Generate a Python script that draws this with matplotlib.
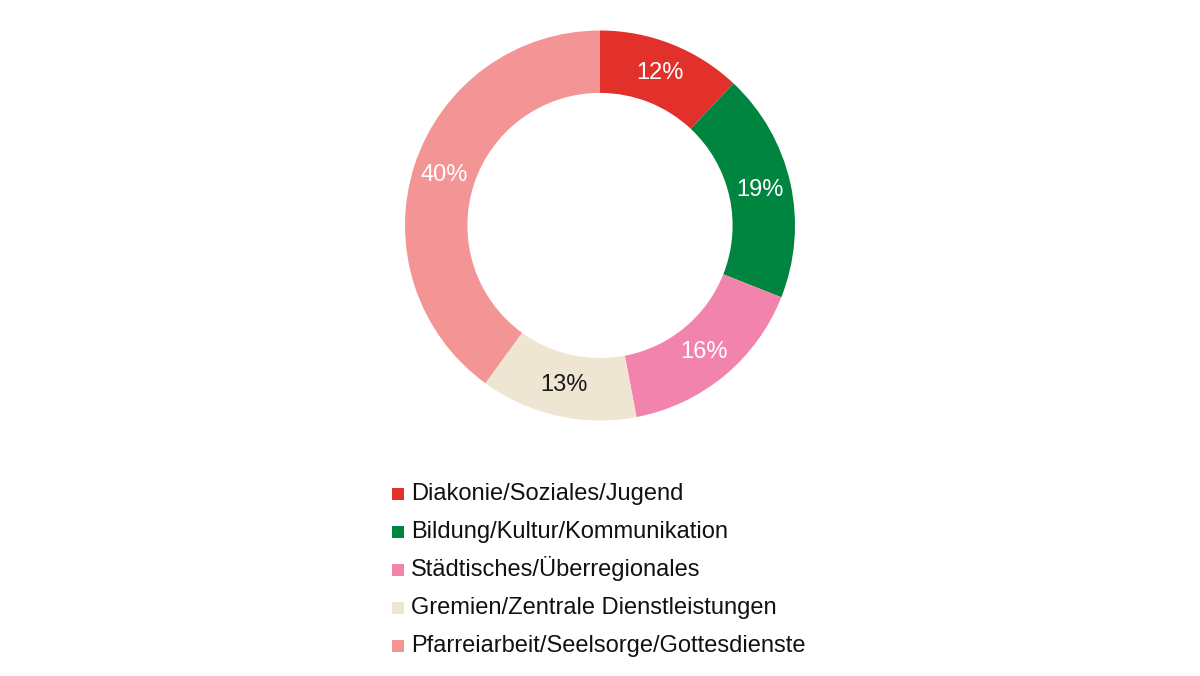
import matplotlib.pyplot as plt

plt.rcParams['font.family'] = ['Liberation Sans', 'DejaVu Sans']

categories = ['Diakonie/Soziales/Jugend', 'Bildung/Kultur/Kommunikation',
              'Städtisches/Überregionales', 'Gremien/Zentrale Dienstleistungen',
              'Pfarreiarbeit/Seelsorge/Gottesdienste']
shares = [12, 19, 16, 13, 40]
colors = ['#E2312B', '#008540', '#F283AD', '#EFE5D3', '#F49595']
label_colors = ['white', 'white', 'white', '#1a1a1a', 'white']

fig = plt.figure(figsize=(12, 6.76), dpi=100)

# donut centred at (600, 225) px, outer radius 195 px
ax = fig.add_axes([400 / 1200, (676 - 225.5 - 200) / 676, 400 / 1200, 400 / 676])
wedges, texts = ax.pie(shares, colors=colors, startangle=90, counterclock=False,
                       radius=1, wedgeprops=dict(width=0.32, linewidth=0),
                       labels=[f'{s}%' for s in shares], labeldistance=0.84)
for t, c in zip(texts, label_colors):
    t.set_color(c)
    t.set_fontsize(17)
    t.set_ha('center')
    t.set_va('center')
ax.set_xlim(-200 / 195, 200 / 195)
ax.set_ylim(-200 / 195, 200 / 195)
ax.set_aspect('equal')
ax.axis('off')

# legend drawn by hand in a pixel-coordinate overlay
lax = fig.add_axes([0, 0, 1, 1])
lax.set_xlim(0, 1200)
lax.set_ylim(676, 0)
lax.axis('off')
row_gap = 38
for i, (cat, c) in enumerate(zip(categories, colors)):
    y = 500 + row_gap * i
    lax.scatter([398], [y - 6.5], marker='s', s=80, color=c, linewidths=0)
    lax.text(411, y, cat, fontsize=17, va='baseline', ha='left', color='#111111')

fig.savefig('out.png', dpi=100)
